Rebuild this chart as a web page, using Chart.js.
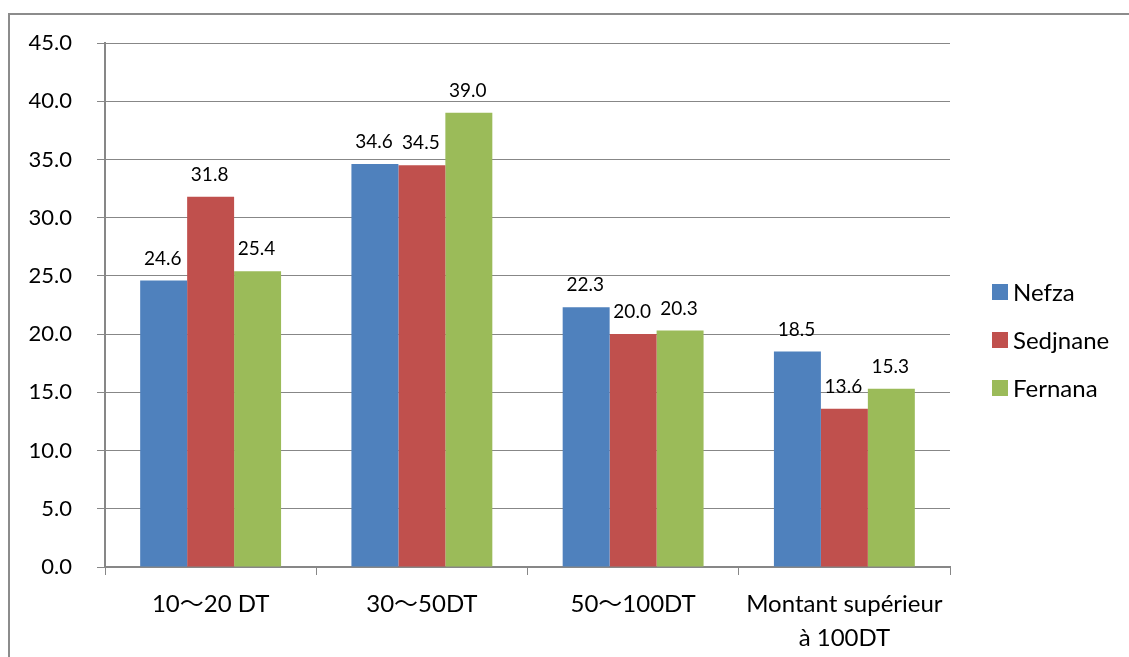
<!DOCTYPE html>
<html>
<head>
<meta charset="utf-8">
<script src="https://cdn.jsdelivr.net/npm/chart.js@4/dist/chart.umd.min.js"></script>
<style>
  html, body { margin: 0; padding: 0; background: #ffffff; }
  #wrap { width: 1129px; height: 657px; position: relative; }
</style>
</head>
<body>
<div id="wrap"><canvas id="c" width="1129" height="657"></canvas></div>
<script>
const categories = ["10\u301C20 DT", "30\u301C50DT", "50\u301C100DT", ["Montant sup\u00E9rieur", "\u00E0 100DT"]];
const seriesNames = ["Nefza", "Sedjnane", "Fernana"];
const nefza = [24.6, 34.6, 22.3, 18.5];
const sedjnane = [31.8, 34.5, 20.0, 13.6];
const fernana = [25.4, 39.0, 20.3, 15.3];
const yTicks = [0, 5, 10, 15, 20, 25, 30, 35, 40, 45];
const colors = ["#4F81BD", "#C0504D", "#9BBB59"];

const FONT = "Lato, 'Noto Sans CJK JP', sans-serif";
const GRID = "#878787";

const bgBorder = {
  id: 'bgBorder',
  beforeDraw(chart) {
    const ctx = chart.ctx;
    ctx.save();
    ctx.fillStyle = '#ffffff';
    ctx.fillRect(0, 0, chart.width, chart.height);
    ctx.strokeStyle = '#8c8c8c';
    ctx.lineWidth = 2;
    ctx.beginPath();
    ctx.moveTo(9, chart.height + 5);
    ctx.lineTo(9, 14);
    ctx.lineTo(chart.width + 5, 14);
    ctx.stroke();
    ctx.restore();
  }
};

const valueLabels = {
  id: 'valueLabels',
  afterDatasetsDraw(chart) {
    const ctx = chart.ctx;
    ctx.save();
    ctx.font = "19px " + FONT;
    ctx.fillStyle = '#000000';
    ctx.textAlign = 'center';
    ctx.textBaseline = 'middle';
    chart.data.datasets.forEach((ds, di) => {
      const meta = chart.getDatasetMeta(di);
      meta.data.forEach((bar, i) => {
        ctx.fillText(ds.data[i].toFixed(1), bar.x - 1, bar.y - 22);
      });
    });
    ctx.restore();
  }
};

const sideLegend = {
  id: 'sideLegend',
  afterDraw(chart) {
    const ctx = chart.ctx;
    const ca = chart.chartArea;
    ctx.save();
    ctx.font = "24px " + FONT;
    ctx.textBaseline = 'middle';
    ctx.textAlign = 'left';
    chart.data.datasets.forEach((ds, i) => {
      const cy = chart.height / 2 + 11.5 + (i - 1) * 48;
      const x0 = ca.right + 42;
      ctx.fillStyle = ds.backgroundColor;
      ctx.fillRect(x0, cy - 8, 16, 16);
      ctx.fillStyle = '#000000';
      ctx.fillText(ds.label, x0 + 21, cy + 1);
    });
    ctx.restore();
  }
};

const datasets = [nefza, sedjnane, fernana].map((d, i) => ({
  label: seriesNames[i],
  data: d,
  backgroundColor: colors[i],
  borderWidth: 0,
  categoryPercentage: 0.667,
  barPercentage: 1.0
}));

new Chart(document.getElementById('c'), {
  type: 'bar',
  data: { labels: categories, datasets: datasets },
  plugins: [bgBorder, valueLabels, sideLegend],
  options: {
    responsive: false,
    animation: false,
    devicePixelRatio: 1,
    layout: { padding: { top: 43, left: 0, right: 179, bottom: 0 } },
    plugins: {
      legend: { display: false },
      tooltip: { enabled: false }
    },
    scales: {
      x: {
        offset: true,
        afterFit(scale) { scale.height = 90; },
        grid: {
          offset: true,
          drawOnChartArea: false,
          drawTicks: true,
          tickLength: 8,
          color: GRID,
          lineWidth: 1
        },
        border: { display: true, color: GRID, width: 2 },
        ticks: {
          color: '#000000',
          padding: 12,
          maxRotation: 0,
          autoSkip: false,
          font: { family: FONT, size: 24, lineHeight: 1.42 }
        }
      },
      y: {
        min: 0,
        max: 45,
        afterFit(scale) { scale.width = 105; },
        afterBuildTicks(scale) { scale.ticks = yTicks.map(v => ({ value: v })); },
        grid: {
          color: GRID,
          lineWidth: 1,
          drawTicks: true,
          tickLength: 8
        },
        border: { display: true, color: GRID, width: 2 },
        ticks: {
          color: '#000000',
          padding: 25,
          font: { family: FONT, size: 22 },
          callback: (v) => Number(v).toFixed(1)
        }
      }
    }
  }
});
</script>
</body>
</html>
